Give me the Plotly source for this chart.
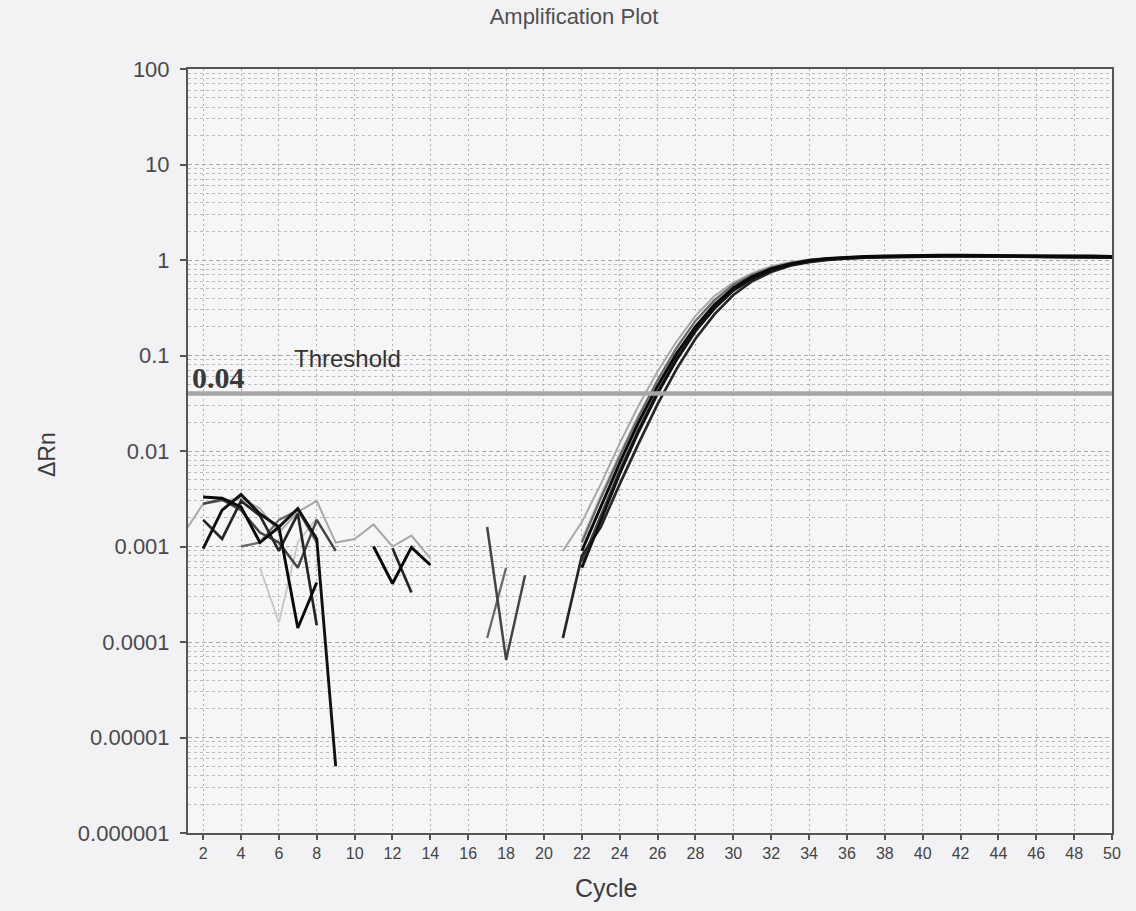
import plotly.graph_objects as go

N = None

# PCR cycle numbers
cycles = list(range(1, 51))

# Delta Rn per well (None = non-positive value, not drawn on the log axis)
well_1 = [N, 0.00095, 0.0024, 0.0035, 0.0022, 0.0016, 0.0025, 0.0012, 0.000005,
          N, N, N, N, N, N, N, N, N, N, N, N,
          0.0006, 0.0019, 0.0058, 0.016, 0.040, 0.090, 0.18, 0.31, 0.48, 0.64,
          0.78, 0.89, 0.97, 1.02, 1.05, 1.07, 1.08, 1.09, 1.09, 1.10,
          1.10, 1.10, 1.09, 1.09, 1.09, 1.08, 1.08, 1.08, 1.07]

well_2 = [N, 0.0033, 0.0032, 0.0026, 0.0011, 0.0016, 0.00014, 0.00042, N,
          N, 0.0010, 0.00041, 0.00098, 0.00064, N, N, N, N, N, N, N,
          0.0009, 0.0026, 0.0075, 0.020, 0.048, 0.105, 0.20, 0.34, 0.51, 0.67,
          0.81, 0.91, 0.99, 1.04, 1.07, 1.09, 1.10, 1.11, 1.11, 1.12,
          1.12, 1.12, 1.11, 1.11, 1.11, 1.10, 1.10, 1.10, 1.09]

well_3 = [N, 0.0019, 0.0012, 0.0030, 0.0021, 0.0009, 0.0022, 0.00015, N,
          N, N, 0.00096, 0.00033, N, N, N, N, N, N, N, 0.00011,
          0.0008, 0.0016, 0.0045, 0.012, 0.031, 0.072, 0.15, 0.27, 0.43, 0.60,
          0.75, 0.87, 0.95, 1.00, 1.04, 1.06, 1.07, 1.08, 1.08, 1.09,
          1.09, 1.09, 1.08, 1.08, 1.08, 1.07, 1.07, 1.07, 1.06]

well_4 = [N, 0.0028, 0.0031, 0.0024, 0.0014, 0.0011, 0.0006, 0.0019, 0.0009,
          N, N, N, N, N, N, N, 0.0016, 0.000065, 0.0005, N, N,
          0.0007, 0.0021, 0.0063, 0.017, 0.042, 0.095, 0.185, 0.32, 0.49, 0.65,
          0.79, 0.90, 0.98, 1.03, 1.06, 1.08, 1.09, 1.10, 1.10, 1.11,
          1.11, 1.11, 1.10, 1.10, 1.10, 1.09, 1.09, 1.09, 1.08]

well_5 = [N, N, N, 0.0010, 0.0011, 0.0019, 0.0024, 0.0011, N,
          N, N, N, N, N, N, N, 0.00011, 0.0006, N, N, N,
          0.0011, 0.0032, 0.0088, 0.023, 0.055, 0.12, 0.23, 0.38, 0.55, 0.70,
          0.83, 0.93, 1.00, 1.04, 1.07, 1.09, 1.10, 1.10, 1.11, 1.11,
          1.11, 1.11, 1.10, 1.10, 1.10, 1.09, 1.09, 1.09, 1.08]

well_6 = [0.0014, 0.0028, 0.0030, 0.0032, 0.0025, 0.0014, 0.0023, 0.0030, 0.0011,
          0.0012, 0.0017, 0.0010, 0.0013, 0.00075, N, N, N, N, N, N, 0.0009,
          0.0018, 0.0045, 0.012, 0.030, 0.068, 0.14, 0.26, 0.42, 0.58, 0.73,
          0.86, 0.95, 1.01, 1.05, 1.07, 1.08, 1.09, 1.09, 1.10, 1.10,
          1.10, 1.10, 1.09, 1.09, 1.09, 1.08, 1.08, 1.08, 1.07]

well_7 = [N, N, N, N, 0.0006, 0.00016, 0.0011, 0.0020, N,
          N, N, N, N, N, N, N, N, N, N, N, N,
          0.0012, 0.0035, 0.0095, 0.024, 0.056, 0.12, 0.23, 0.37, 0.54, 0.69,
          0.82, 0.92, 0.99, 1.03, 1.06, 1.08, 1.09, 1.09, 1.10, 1.10,
          1.10, 1.10, 1.09, 1.09, 1.09, 1.08, 1.08, 1.08, 1.07]

wells = [well_7, well_6, well_5, well_4, well_3, well_1, well_2]
well_colors = ["#c6c6c6", "#a8a8a8", "#6a6a6a", "#444444", "#262626", "#111111", "#0a0a0a"]
well_widths = [1.8, 2.0, 2.3, 2.5, 2.7, 2.9, 2.9]

THRESHOLD = 0.04

y_tickvals = [1e-6, 1e-5, 1e-4, 1e-3, 1e-2, 1e-1, 1, 10, 100]
y_ticktext = ["0.000001", "0.00001", "0.0001", "0.001", "0.01", "0.1", "1", "10", "100"]
x_tickvals = list(range(2, 51, 2))

FONT = "Arial, Liberation Sans, sans-serif"
INK = "#3c3c3c"

fig = go.Figure()

for vals, col, w in zip(wells, well_colors, well_widths):
    fig.add_trace(go.Scatter(
        x=cycles, y=vals, mode="lines",
        line=dict(color=col, width=w),
        connectgaps=False, showlegend=False, hoverinfo="skip",
    ))

# threshold line
fig.add_trace(go.Scatter(
    x=[1.2, 50], y=[THRESHOLD, THRESHOLD], mode="lines",
    line=dict(color="#a6a6a6", width=4.5),
    showlegend=False, hoverinfo="skip",
))

minor_vals = [m * 10.0 ** e for e in range(-6, 2) for m in range(2, 10)]

fig.update_layout(
    width=1136, height=911,
    margin=dict(l=188, r=24, t=69, b=78),
    paper_bgcolor="#f2f2f5",
    plot_bgcolor="#f6f6f8",
    font=dict(family=FONT, color=INK),
    title=dict(text="Amplification Plot", x=574 / 1136, xanchor="center",
               y=1 - 16 / 911, yanchor="middle", yref="container",
               font=dict(size=22, color="#505050")),
    xaxis=dict(
        range=[1.2, 50], tickmode="array", tickvals=x_tickvals,
        ticks="outside", ticklen=5, tickwidth=1.5, tickcolor="#555",
        tickfont=dict(size=16, color="#444"),
        showline=True, linecolor="#555", linewidth=2, mirror=True,
        showgrid=True, gridcolor="#b2b2b2", gridwidth=1, griddash="2px,3px",
        zeroline=False,
    ),
    yaxis=dict(
        type="log", range=[-6, 2], tickmode="array",
        tickvals=y_tickvals, ticktext=y_ticktext,
        ticks="outside", ticklen=6, tickwidth=1.5, tickcolor="#555",
        tickfont=dict(size=22, color="#4a4a4a"), ticklabelstandoff=6,
        showline=True, linecolor="#555", linewidth=2, mirror=True,
        showgrid=True, gridcolor="#a8a8a8", gridwidth=1, griddash="4px,3px",
        minor=dict(tickmode="array", tickvals=minor_vals, ticklen=0,
                   showgrid=True, gridcolor="#bcbcbc", gridwidth=1,
                   griddash="3px,3px"),
        zeroline=False,
    ),
)

# axis titles
fig.add_annotation(text="Cycle", xref="paper", yref="paper",
                   x=(606 - 188) / 924, y=-(888 - 833) / 764,
                   xanchor="center", yanchor="middle", showarrow=False,
                   font=dict(size=25, color=INK))
fig.add_annotation(text="ΔRn", xref="paper", yref="paper",
                   x=(47 - 188) / 924, y=(833 - 455) / 764, textangle=-90,
                   xanchor="center", yanchor="middle", showarrow=False,
                   font=dict(size=23, color=INK))

# threshold labels
fig.add_annotation(text="Threshold", x=6.7, y=-1.03, xref="x", yref="y",
                   xanchor="left", yanchor="middle", showarrow=False,
                   font=dict(size=24, color="#333"))
fig.add_annotation(text="<b>0.04</b>", xref="paper", x=0.002, y=-1.23, yref="y",
                   xanchor="left", yanchor="middle", showarrow=False,
                   font=dict(size=30, color="#3a3a3a",
                             family="Liberation Serif, Times New Roman, serif"))

fig.write_html("out.html")
